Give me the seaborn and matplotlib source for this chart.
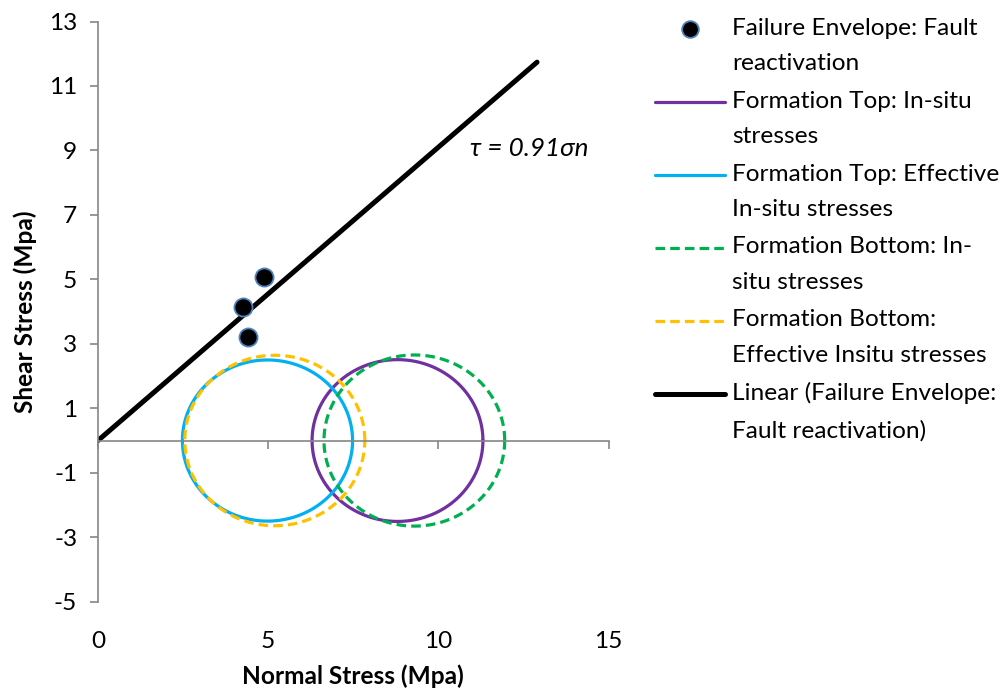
import numpy as np
import pandas as pd
import matplotlib
matplotlib.use("Agg")
import matplotlib.pyplot as plt
import seaborn as sns
from matplotlib.lines import Line2D
from matplotlib.legend_handler import HandlerLine2D

# ---- data ----
fault_normal = [4.87, 4.25, 4.41]
fault_shear = [5.06, 4.14, 3.21]

circle_names = ["Formation Top: In-situ\nstresses",
                "Formation Top: Effective\nIn-situ stresses",
                "Formation Bottom: In-\nsitu stresses",
                "Formation Bottom:\nEffective Insitu stresses"]
sigma3 = [6.29, 2.48, 6.64, 2.55]
sigma1 = [11.31, 7.48, 11.95, 7.84]
circle_colors = ["#7030A0", "#00B0F0", "#00B050", "#FFC000"]
circle_dashed = [False, False, True, True]

trend_slope = 0.91
trend_x = [0.0, 12.9]

xticks = [0, 5, 10, 15]
yticks = [-5, -3, -1, 1, 3, 5, 7, 9, 11, 13]

sns.set_style("white")
plt.rcParams['font.family'] = ['Lato', 'DejaVu Sans']
plt.rcParams['axes.unicode_minus'] = False
plt.rcParams['text.color'] = 'black'
plt.rcParams['axes.labelcolor'] = 'black'
plt.rcParams['xtick.color'] = 'black'
plt.rcParams['ytick.color'] = 'black'
FS = 17.6

fig = plt.figure(figsize=(10.05, 6.94), dpi=100)
ax = fig.add_axes([0.0975, 0.133, 0.508, 0.836])

# circles
theta = np.linspace(0, 2 * np.pi, 361)
for name, s3, s1, col, dsh in zip(circle_names, sigma3, sigma1, circle_colors, circle_dashed):
    c = (s1 + s3) / 2
    r = (s1 - s3) / 2
    df = pd.DataFrame({"x": c + r * np.cos(theta), "y": r * np.sin(theta)})
    sns.lineplot(data=df, x="x", y="y", sort=False, estimator=None, ax=ax,
                 color=col, lw=2.3, linestyle=(0, (3, 1.6)) if dsh else "-")

# trend line
tdf = pd.DataFrame({"x": trend_x, "y": [trend_slope * v for v in trend_x]})
sns.lineplot(data=tdf, x="x", y="y", ax=ax, color="black", lw=3.6, sort=False, estimator=None)

# points
pdf = pd.DataFrame({"x": fault_normal, "y": fault_shear})
sns.scatterplot(data=pdf, x="x", y="y", ax=ax, color="black", s=170,
                edgecolor="#4F81BD", linewidth=1.3, zorder=5)

ax.text(10.92, 9.06, "τ = 0.91σn", fontsize=18.8, style="italic", va="center", ha="left")

ax.set_xlim(0, 15)
ax.set_ylim(-5, 13)
ax.set_xticks(xticks)
ax.set_yticks(yticks)
ax.spines['left'].set_position(('data', 0))
ax.spines['bottom'].set_position(('data', 0))
for s in ['top', 'right']:
    ax.spines[s].set_visible(False)
for s in ['left', 'bottom']:
    ax.spines[s].set_color("#868686")
    ax.spines[s].set_linewidth(1.2)
ax.tick_params(axis='both', direction='out', length=6, width=1.2, color="#868686",
               labelsize=FS, left=True, bottom=True, labelcolor='black')
ax.tick_params(axis='x', pad=131)
ax.tick_params(axis='y', pad=9)

ax.set_xlabel("Normal Stress (Mpa)", fontsize=FS, fontweight="bold")
ax.set_ylabel("Shear Stress (Mpa)", fontsize=FS, fontweight="bold")
ax.xaxis.set_label_coords(0.5, -0.108)
ax.yaxis.set_label_coords(-0.12, 0.5)


class ShiftedLineHandler(HandlerLine2D):
    """Align the legend handle with the first line of a two-line label."""
    shift = 12.4  # points

    def create_artists(self, legend, orig_handle, xdescent, ydescent, width, height,
                       fontsize, trans):
        arts = super().create_artists(legend, orig_handle, xdescent, ydescent, width,
                                      height, fontsize, trans)
        for a in arts:
            a.set_ydata(np.asarray(a.get_ydata()) + self.shift)
        return arts


handles = [Line2D([], [], marker='o', linestyle='none', markerfacecolor='black',
                  markeredgecolor='#4F81BD', markersize=12, markeredgewidth=1.3)]
for col, dsh in zip(circle_colors, circle_dashed):
    handles.append(Line2D([], [], color=col, lw=2.3, linestyle=(0, (3, 1.6)) if dsh else "-"))
handles.append(Line2D([], [], color="black", lw=3.6))
labels = ["Failure Envelope: Fault\nreactivation"] + circle_names + \
         ["Linear (Failure Envelope:\nFault reactivation)"]
leg = fig.legend(handles, labels, loc="upper left", bbox_to_anchor=(0.652, 0.9745),
                 bbox_transform=fig.transFigure, frameon=False, fontsize=FS,
                 handlelength=2.85, handletextpad=0.3, labelspacing=0.66,
                 borderpad=0, borderaxespad=0,
                 handler_map={Line2D: ShiftedLineHandler()})
for t in leg.get_texts():
    t.set_linespacing(1.87)
    t.set_color('black')

fig.savefig("out.png", dpi=100)
